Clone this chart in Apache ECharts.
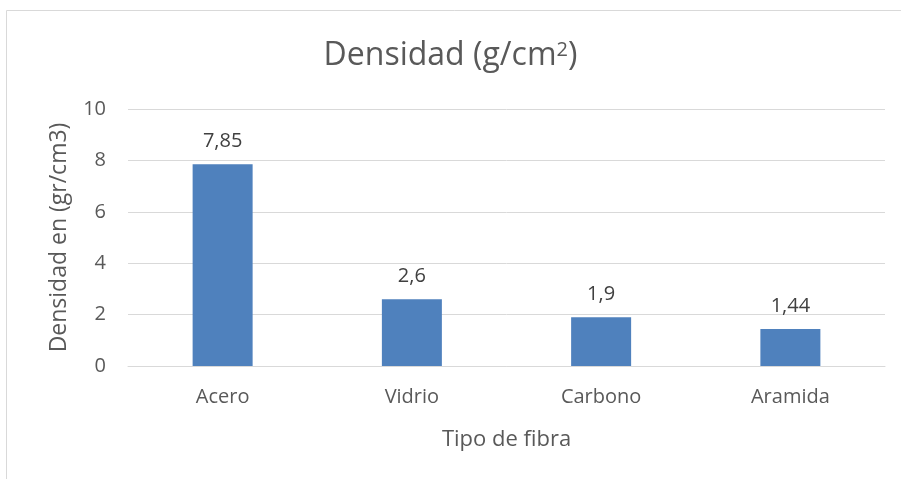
<!DOCTYPE html>
<html>
<head>
<meta charset="utf-8">
<script src="https://cdn.jsdelivr.net/npm/echarts@6/dist/echarts.min.js"></script>
<style>
  html, body { margin: 0; padding: 0; background: #fff; }
  #chart { width: 901px; height: 479px; }
</style>
</head>
<body>
<div id="chart"></div>
<script>
// datos del gráfico
var categorias = ['Acero', 'Vidrio', 'Carbono', 'Aramida'];
var densidades = [7.85, 2.6, 1.9, 1.44];
var etiquetas = ['7,85', '2,6', '1,9', '1,44'];

var fuente = 'Open Sans';
var chart = echarts.init(document.getElementById('chart'));
var option = {
    animation: false,
    title: {
        text: 'Densidad (g/cm{sup|2})',
        left: 'center',
        top: 35,
        textStyle: {
            fontFamily: fuente,
            fontSize: 32,
            fontWeight: 'normal',
            color: '#595959',
            rich: {
                sup: { fontFamily: fuente, fontSize: 20, color: '#595959', verticalAlign: 'top', padding: [0, 0, 12, 0] }
            }
        }
    },
    graphic: [{
        type: 'rect',
        shape: { x: 6.5, y: 10.5, width: 910, height: 480 },
        style: { fill: 'none', stroke: '#d9d9d9', lineWidth: 1 },
        silent: true
    }],
    grid: {
        left: 128,
        right: 16,
        top: 109,
        bottom: 113
    },
    xAxis: {
        type: 'category',
        data: categorias,
        name: 'Tipo de fibra',
        nameLocation: 'middle',
        nameGap: 63,
        nameTextStyle: { fontFamily: fuente, fontSize: 22, color: '#595959' },
        axisLine: { lineStyle: { color: '#d9d9d9', width: 1 } },
        axisTick: { show: false },
        axisLabel: { fontFamily: fuente, fontSize: 20, color: '#595959', margin: 21 }
    },
    yAxis: {
        type: 'value',
        min: 0,
        max: 10,
        interval: 2,
        name: 'Densidad en (gr/cm3)',
        nameLocation: 'middle',
        nameGap: 57,
        nameTextStyle: { fontFamily: fuente, fontSize: 23, color: '#595959' },
        axisLine: { show: false },
        axisTick: { show: false },
        splitLine: { lineStyle: { color: '#d9d9d9', width: 1 } },
        axisLabel: { fontFamily: fuente, fontSize: 20, color: '#595959', margin: 22 }
    },
    series: [{
        type: 'bar',
        data: densidades,
        barWidth: 60,
        itemStyle: { color: '#4f81bd' },
        label: {
            show: true,
            position: 'top',
            distance: 13,
            fontFamily: fuente,
            fontSize: 20,
            color: '#404040',
            formatter: function (p) { return etiquetas[p.dataIndex]; }
        }
    }]
};
chart.setOption(option);
</script>
</body>
</html>
